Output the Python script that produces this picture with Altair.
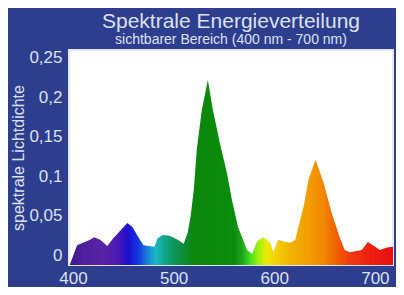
import altair as alt
import pandas as pd

# Data
wavelength = [397, 404, 417, 421, 427, 434, 440, 454, 459, 465, 470, 481, 484, 489, 496, 504, 510,
              514, 517, 520, 523, 528, 534, 539, 546, 553, 558, 564, 573, 578, 583, 589, 596, 599,
              604, 611, 616, 621, 624, 629, 634, 641, 649, 657, 665, 670, 675, 687, 693, 698, 705,
              712, 718]
density = [-0.011, 0.013, 0.020, 0.023, 0.020, 0.012, 0.022, 0.041, 0.036, 0.023, 0.013, 0.011,
           0.022, 0.026, 0.025, 0.020, 0.015, 0.029, 0.051, 0.083, 0.134, 0.184, 0.222, 0.184,
           0.142, 0.104, 0.070, 0.036, 0.007, 0.002, 0.018, 0.023, 0.016, 0.004, 0.020, 0.017,
           0.016, 0.020, 0.036, 0.061, 0.096, 0.121, 0.092, 0.054, 0.023, 0.007, 0.004, 0.007,
           0.017, 0.013, 0.007, 0.010, 0.011]

x_ticks = [400, 500, 600, 700]
y_ticks = [0, 0.05, 0.1, 0.15, 0.2, 0.25]
y_min, y_max = -0.012, 0.26

# spectral colour stops (wavelength in nm -> colour)
stop_nm = [397, 410, 430, 445, 455, 465, 475, 482, 490, 500, 512, 520, 560, 568, 576, 584, 592,
           600, 615, 635, 650, 662, 675, 695, 718]
stop_colors = ["#3b1a8e", "#4e1f9e", "#5a22a6", "#4a18b8", "#1c0fd0", "#1438e0", "#1a8ad8",
               "#18b8c8", "#12a890", "#10965c", "#0e8a30", "#0b870b", "#0b8c0b", "#1ea51a",
               "#40e020", "#9cf010", "#e8ec00", "#f4d400", "#f2b400", "#f29c00", "#f28400",
               "#f06000", "#f03a10", "#f02010", "#e61010"]

df = pd.DataFrame({"nm": wavelength, "v": density})
lo, hi = min(wavelength), max(wavelength)
stops = [alt.GradientStop(offset=(n - lo) / (hi - lo), color=c) for n, c in zip(stop_nm, stop_colors)]

FONT = "Liberation Sans"
TXT = "#dde1f2"
W, H = 324, 215

area = alt.Chart(df).mark_area(
    color=alt.Gradient(gradient="linear", stops=stops, x1=0, x2=1, y1=0, y2=0),
).encode(
    x=alt.X("nm:Q", scale=alt.Scale(domain=[396, 718], nice=False, zero=False),
            axis=alt.Axis(values=x_ticks, title=None, labelFontSize=17, labelPadding=5,
                          tickSize=0, ticks=False, domain=False, grid=False,
                          labelFont=FONT, labelColor=TXT, labelFlush=False)),
    y=alt.Y("v:Q", scale=alt.Scale(domain=[y_min, y_max], nice=False, zero=False),
            axis=alt.Axis(values=y_ticks, title="spektrale Lichtdichte",
                          labelExpr="replace(format(datum.value, '.2~f'), '.', ',')",
                          labelFontSize=17, labelPadding=7, tickSize=0, ticks=False,
                          domain=False, grid=False, labelFont=FONT, labelColor=TXT,
                          titleFont=FONT, titleColor=TXT, titleFontSize=16,
                          titleFontWeight="normal", titleX=-51, titleY=H / 2,
                          titleAngle=270, titleAlign="center", titleBaseline="middle")),
    y2=alt.datum(y_min),
)

chart = area.properties(
    width=W,
    height=H,
    autosize=alt.AutoSizeParams(type="none"),
    padding={"left": 61, "top": 42, "right": 3, "bottom": 22},
    background="#2e3e8e",
    title=alt.TitleParams(
        text="Spektrale Energieverteilung",
        subtitle="sichtbarer Bereich (400 nm - 700 nm)",
        font=FONT, subtitleFont=FONT, fontSize=21, subtitleFontSize=14,
        fontWeight="normal", color=TXT, subtitleColor=TXT,
        anchor="middle", offset=2, subtitlePadding=1,
    ),
).configure_view(
    fill="white", stroke="#e4e7f3", strokeWidth=2,
)

chart.save("out.html", embed_options={"renderer": "svg", "actions": False})
